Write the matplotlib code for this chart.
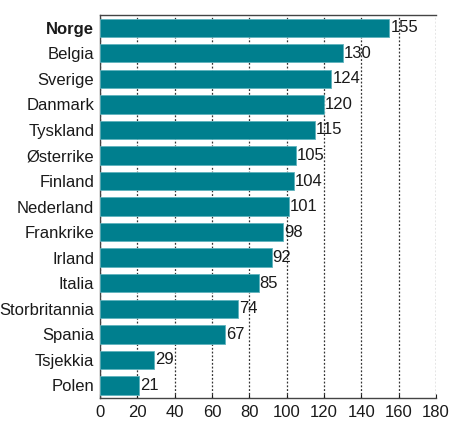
import matplotlib
matplotlib.use('Agg')
from matplotlib import pyplot as plt

countries = ['Norge', 'Belgia', 'Sverige', 'Danmark', 'Tyskland', 'Østerrike',
             'Finland', 'Nederland', 'Frankrike', 'Irland', 'Italia',
             'Storbritannia', 'Spania', 'Tsjekkia', 'Polen']
values = [155, 130, 124, 120, 115, 105, 104, 101, 98, 92, 85, 74, 67, 29, 21]
xticks = [0, 20, 40, 60, 80, 100, 120, 140, 160, 180]

plt.rcParams['font.family'] = ['Liberation Sans', 'DejaVu Sans']
plt.rcParams['font.size'] = 12

fig = plt.figure(figsize=(4.5, 4.4), dpi=100)
ax = fig.add_axes([0.222, 0.095, 0.747, 0.871])

pos = list(range(len(countries)))
ax.barh(pos, values, height=0.72, color='#007F8E', edgecolor='#5fb3bd', linewidth=0.6, zorder=3)
for p, v in zip(pos, values):
    ax.text(v + 0.5, p, str(v), va='center', ha='left', fontsize=12, color='#1a1a1a', zorder=4)

ax.set_ylim(14.5, -0.5)
ax.set_xlim(0, 180)
ax.set_yticks(pos)
ax.set_yticklabels(countries)
ax.get_yticklabels()[0].set_fontweight('bold')
ax.set_xticks(xticks)
ax.tick_params(axis='y', length=0, pad=4, labelcolor='#1a1a1a')
ax.tick_params(axis='x', length=3, direction='in', colors='#1a1a1a', pad=5)
ax.xaxis.grid(True, linestyle=(0, (1.5, 1.5)), color='#333333', linewidth=0.9, zorder=0)

for side in ['left', 'bottom', 'top']:
    ax.spines[side].set_color('#444444')
    ax.spines[side].set_linewidth(1.0)
ax.spines['right'].set_visible(False)

fig.savefig('out.png', dpi=100)
